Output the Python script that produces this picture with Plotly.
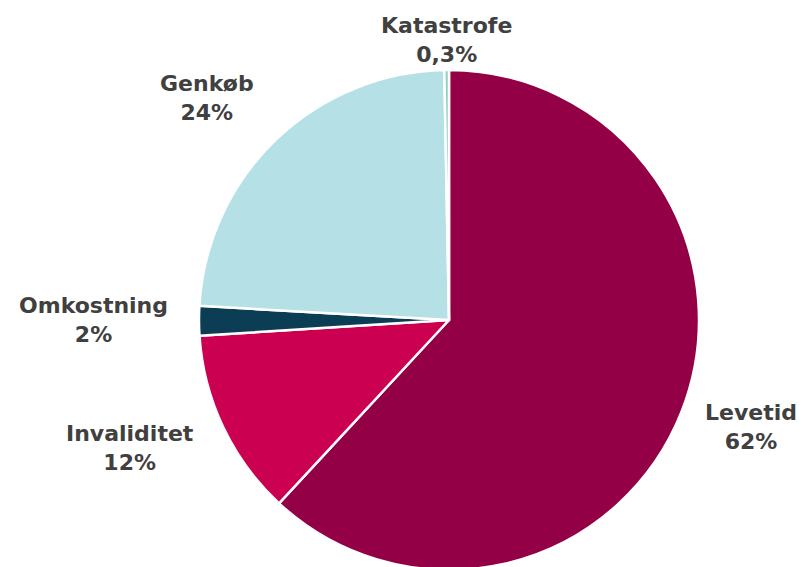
import plotly.graph_objects as go

categories = ["Levetid", "Invaliditet", "Omkostning", "Genkøb", "Katastrofe"]
values = [61.9, 12.1, 1.9, 23.8, 0.3]
value_labels = ["62%", "12%", "2%", "24%", "0,3%"]
colors = ["#930045", "#CC0050", "#0B3D55", "#B5E0E6", "#8ED3C0"]

W, H = 804, 567
OFF = 8  # page body margin offset
# label block centres (screen pixels)
label_pos = {
    "Levetid": (751, 427),
    "Invaliditet": (130, 448),
    "Omkostning": (93, 320),
    "Genkøb": (207, 98),
    "Katastrofe": (446, 40),
}
cx, cy, r = 449 - OFF, 320 - OFF, 250

fig = go.Figure(go.Pie(
    labels=categories,
    values=values,
    sort=False,
    direction="clockwise",
    rotation=0,
    marker=dict(colors=colors, line=dict(color="white", width=2.5)),
    textinfo="none",
    hoverinfo="label+percent",
    domain=dict(x=[(cx - r) / W, (cx + r) / W], y=[1 - (cy + r) / H, 1 - (cy - r) / H]),
    showlegend=False,
))

for cat, val in zip(categories, value_labels):
    px, py = label_pos[cat]
    fig.add_annotation(
        x=(px - OFF) / W, y=1 - (py - OFF) / H, xref="paper", yref="paper",
        xanchor="center", yanchor="middle",
        text=f"<b>{cat}</b><br><b>{val}</b>",
        showarrow=False, align="center",
        font=dict(family="Verdana, DejaVu Sans, sans-serif", size=22, color="#404040"),
    )

fig.update_layout(
    width=W, height=H,
    margin=dict(l=0, r=0, t=0, b=0),
    paper_bgcolor="white", plot_bgcolor="white",
)

fig.write_html("out.html")
